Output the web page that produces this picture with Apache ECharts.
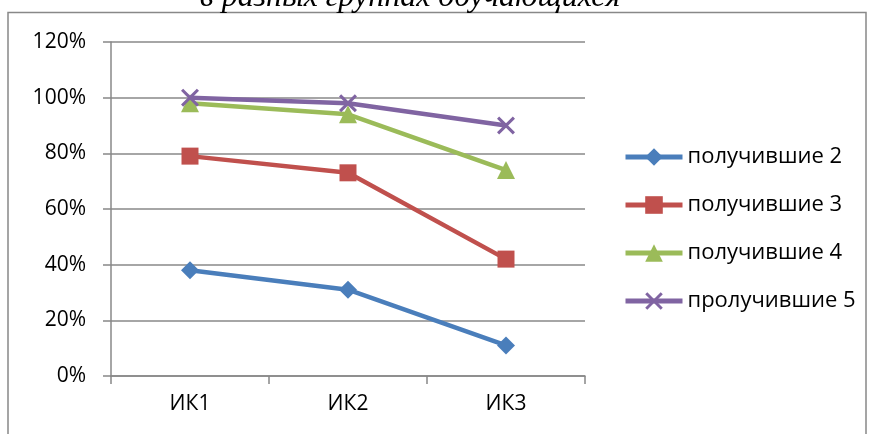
<!DOCTYPE html>
<html><head><meta charset="utf-8">
<script src="https://cdn.jsdelivr.net/npm/echarts@6/dist/echarts.min.js"></script>
<style>html,body{margin:0;padding:0;background:#fff}#c{width:870px;height:434px}</style>
</head><body><div id="c"></div>
<script>
const categories = ['ИК1', 'ИК2', 'ИК3'];
const seriesNames = ['получившие 2', 'получившие 3', 'получившие 4', 'пролучившие 5'];
const s2 = [38, 31, 11];
const s3 = [79, 73, 42];
const s4 = [98, 94, 74];
const s5 = [100, 98, 90];
const titleText = 'в разных группах обучающихся';

const colors = ['#4A7EBB', '#C0504D', '#9BBB59', '#8064A2'];
const xPath = 'path://M0,1.2L1.2,0L5,3.8L8.8,0L10,1.2L6.2,5L10,8.8L8.8,10L5,6.2L1.2,10L0,8.8L3.8,5Z';
const symbols = ['diamond', 'rect', 'triangle', xPath];
const sizes = [18, 17, 18, 18];
const data = [s2, s3, s4, s5];
const font = 'Open Sans';

const chart = echarts.init(document.getElementById('c'));
chart.setOption({
  animation: false,
  color: colors,
  grid: { left: 111, right: 285, top: 42, bottom: 58 },
  graphic: [
    { type: 'polyline', shape: { points: [[8, 434], [8, 12.5], [866, 12.5], [866, 434]] },
      style: { stroke: '#888', lineWidth: 1.5, fill: null } },
    { type: 'text', x: 410, y: -2,
      style: { text: titleText, font: 'italic 32px "Liberation Serif"', fill: '#000', align: 'center', verticalAlign: 'middle' } }
  ],
  legend: {
    orient: 'vertical', left: 623, top: 146, padding: 0,
    itemWidth: 57, itemHeight: 22, itemGap: 26,
    lineStyle: { width: 5 },
    textStyle: { fontFamily: font, fontSize: 22, color: '#000' },
    data: seriesNames
  },
  xAxis: {
    type: 'category', data: categories, boundaryGap: true,
    axisLine: { lineStyle: { color: '#888', width: 1.5 } },
    axisTick: { show: true, length: 8, lineStyle: { color: '#888', width: 1.5 } },
    axisLabel: { fontFamily: font, fontSize: 21, color: '#000', margin: 18 }
  },
  yAxis: {
    type: 'value', min: 0, max: 120, interval: 20,
    axisLine: { show: true, lineStyle: { color: '#888', width: 1.5 } },
    axisTick: { show: true, length: 8, lineStyle: { color: '#888', width: 1.5 } },
    splitLine: { lineStyle: { color: '#888', width: 1.5 } },
    axisLabel: { fontFamily: font, fontSize: 21, color: '#000', margin: 25, formatter: '{value}%' }
  },
  series: seriesNames.map((n, i) => ({
    name: n, type: 'line', data: data[i],
    symbol: symbols[i], symbolSize: sizes[i],
    lineStyle: { width: 4.5, color: colors[i] },
    itemStyle: { color: colors[i] }
  }))
});
</script></body></html>
